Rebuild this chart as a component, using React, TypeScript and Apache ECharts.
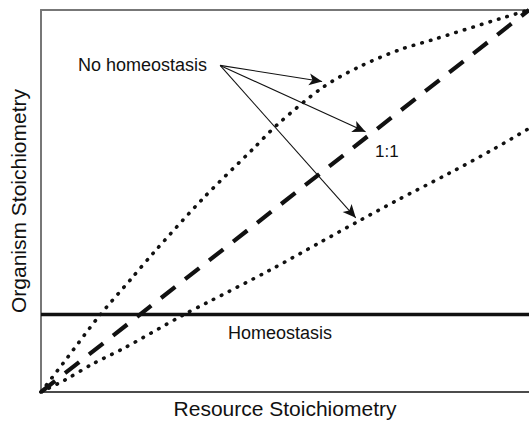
import React, { useEffect, useRef } from "react";
import * as echarts from "echarts";

// Normalised axes (0..1): Resource Stoichiometry (x) vs Organism Stoichiometry (y)
const upperCurve: [number, number][] = [
  [0, 0], [0.053, 0.088], [0.118, 0.197], [0.184, 0.295], [0.231, 0.365],
  [0.333, 0.508], [0.435, 0.637], [0.486, 0.702], [0.578, 0.798],
  [0.653, 0.852], [0.735, 0.896], [0.802, 0.922], [0.945, 0.979], [1, 1],
];
const lowerCurve: [number, number][] = [
  [0, 0], [0.047, 0.03], [0.108, 0.075], [0.169, 0.114], [0.292, 0.202],
  [0.339, 0.233], [0.469, 0.319], [0.571, 0.391], [0.649, 0.446],
  [0.727, 0.5], [0.837, 0.573], [0.929, 0.637], [1, 0.69],
];
const oneToOne: [number, number][] = [[0, 0], [1, 1]];
const homeostasisLevel = 0.203;
const homeostasis: [number, number][] = [[0, homeostasisLevel], [1, homeostasisLevel]];
const arrowStart: [number, number] = [0.367, 0.855];
const arrowEnds: [number, number][] = [[0.576, 0.813], [0.665, 0.681], [0.645, 0.456]];

const xTitle = "Resource Stoichiometry";
const yTitle = "Organism Stoichiometry";
const labelNoHomeo = "No homeostasis";
const labelOneToOne = "1:1";
const labelHomeo = "Homeostasis";

const FONT = '"Liberation Sans", Arial, Helvetica, sans-serif';

export default function App() {
  const ref = useRef<HTMLDivElement>(null);
  useEffect(() => {
    if (!ref.current) return;
    const chart = echarts.init(ref.current, null, { renderer: "svg" });
    const dotted = { color: "#111", width: 3.6, type: [0.5, 8.4], cap: "round" as const };
    chart.setOption({
      animation: false,
      backgroundColor: "#fff",
      grid: { left: 37, right: 0, top: 10, bottom: 28 },
      xAxis: [
        {
          type: "value", min: 0, max: 1,
          axisLine: { show: true, lineStyle: { color: "#111", width: 1.5 } },
          axisTick: { show: false }, axisLabel: { show: false }, splitLine: { show: false },
          name: xTitle, nameLocation: "middle", nameGap: 6,
          nameTextStyle: { fontFamily: FONT, fontSize: 21, color: "#111" },
        },
        {
          type: "value", min: 0, max: 1, position: "top",
          axisLine: { show: true, lineStyle: { color: "#777", width: 2 } },
          axisTick: { show: false }, axisLabel: { show: false }, splitLine: { show: false },
        },
      ],
      yAxis: {
        type: "value", min: 0, max: 1,
        axisLine: { show: true, lineStyle: { color: "#777", width: 2 } },
        axisTick: { show: false }, axisLabel: { show: false }, splitLine: { show: false },
        name: yTitle, nameLocation: "middle", nameGap: 12,
        nameTextStyle: { fontFamily: FONT, fontSize: 21, color: "#111" },
      },
      series: [
        {
          type: "line", data: upperCurve, smooth: 0.3, showSymbol: false, silent: true,
          lineStyle: dotted,
        },
        {
          type: "line", data: lowerCurve, smooth: 0.3, showSymbol: false, silent: true,
          lineStyle: dotted,
        },
        {
          type: "line", data: oneToOne, showSymbol: false, silent: true,
          lineStyle: { color: "#111", width: 4.2, type: [18, 12.5] },
        },
        {
          type: "line", data: homeostasis, showSymbol: false, silent: true,
          lineStyle: { color: "#111", width: 3.6 },
          markLine: {
            silent: true,
            symbol: ["none", "arrow"],
            symbolSize: [9, 13],
            label: { show: false },
            lineStyle: { color: "#111", width: 1.1, type: "solid" },
            data: arrowEnds.map((e) => [{ coord: arrowStart }, { coord: e }]),
          },
        },
      ],
      graphic: [
        { type: "text", x: 78, y: 65, style: { text: labelNoHomeo, font: `18px ${FONT}`, fill: "#111", verticalAlign: "middle" } },
        { type: "text", x: 375, y: 151, style: { text: labelOneToOne, font: `17px ${FONT}`, fill: "#111", verticalAlign: "middle" } },
        { type: "text", x: 228, y: 333, style: { text: labelHomeo, font: `18px ${FONT}`, fill: "#111", verticalAlign: "middle" } },
      ],
    });
    return () => chart.dispose();
  }, []);
  return <div ref={ref} style={{ position: "fixed", left: 0, top: 0, width: 529, height: 424 }} />;
}
